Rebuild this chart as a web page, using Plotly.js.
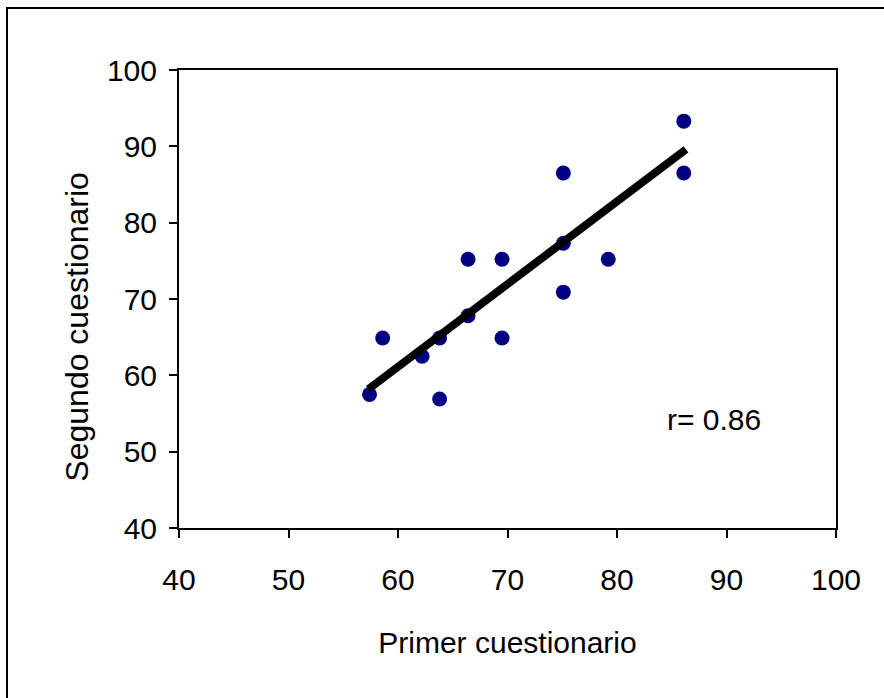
<!DOCTYPE html>
<html>
<head>
<meta charset="utf-8">
<script src="https://cdn.plot.ly/plotly-3.0.1.min.js"></script>
<style>html,body{margin:0;padding:0;background:#fff;}#chart{width:884px;height:698px;}</style>
</head>
<body>
<div id="chart"></div>
<script>
// Data
const primer = [57.4, 58.6, 62.2, 63.8, 63.8, 66.4, 66.4, 69.5, 69.5, 75.1, 75.1, 75.1, 79.2, 86.1, 86.1];
const segundo = [57.5, 64.9, 62.5, 64.9, 56.9, 75.2, 67.8, 75.2, 64.9, 86.5, 77.3, 70.9, 75.2, 93.3, 86.5];
// Trend line endpoints
const trendX = [57.3, 86.3];
const trendY = [58.2, 89.6];
const tickVals = [40, 50, 60, 70, 80, 90, 100];
const rLabel = "r= 0.86";
const xTitle = "Primer cuestionario";
const yTitle = "Segundo cuestionario";

const fontFam = "Liberation Sans, Arial, sans-serif";
const fs = 30;

const traces = [
  {
    x: primer, y: segundo, type: "scatter", mode: "markers",
    marker: {color: "#000080", size: 15, line: {width: 0}},
    hoverinfo: "x+y", showlegend: false
  },
  {
    x: trendX, y: trendY, type: "scatter", mode: "lines",
    line: {color: "#000000", width: 8},
    hoverinfo: "skip", showlegend: false
  }
];

const layout = {
  width: 884, height: 698,
  margin: {l: 179, r: 48, t: 70, b: 170},
  paper_bgcolor: "#ffffff", plot_bgcolor: "#ffffff",
  font: {family: fontFam, color: "#000000", size: fs},
  xaxis: {
    range: [40, 100], tickvals: tickVals, ticktext: tickVals.map(String),
    showgrid: false, zeroline: false, showline: true, linecolor: "#000", linewidth: 2,
    mirror: true, ticks: "outside", ticklen: 8, tickwidth: 2, tickcolor: "#000",
    ticklabelstandoff: 16,
    tickfont: {size: fs, family: fontFam}, fixedrange: true,
    title: {text: xTitle, font: {size: fs, family: fontFam}, standoff: 37}
  },
  yaxis: {
    range: [40, 100], tickvals: tickVals, ticktext: tickVals.map(String),
    showgrid: false, zeroline: false, showline: true, linecolor: "#000", linewidth: 2,
    mirror: true, ticks: "outside", ticklen: 8, tickwidth: 2, tickcolor: "#000",
    ticklabelstandoff: 6,
    tickfont: {size: fs, family: fontFam}, fixedrange: true
  },
  annotations: [
    {x: 84.4, y: 54.2, xref: "x", yref: "y", text: rLabel, showarrow: false,
     xanchor: "left", yanchor: "middle", font: {size: fs, family: fontFam, color: "#000"}},
    {x: -0.155, y: 0.44, xref: "paper", yref: "paper", text: yTitle, showarrow: false,
     textangle: -90, xanchor: "center", yanchor: "middle",
     font: {size: 32, family: fontFam, color: "#000"}}
  ],
  shapes: [
    {type: "rect", xref: "paper", yref: "paper", x0: -0.2618, x1: 2, y0: -1, y1: 1.1354,
     line: {color: "#000", width: 2}, fillcolor: "rgba(0,0,0,0)", layer: "above"}
  ]
};

Plotly.newPlot("chart", traces, layout, {displayModeBar: false, staticPlot: true});
</script>
</body>
</html>
